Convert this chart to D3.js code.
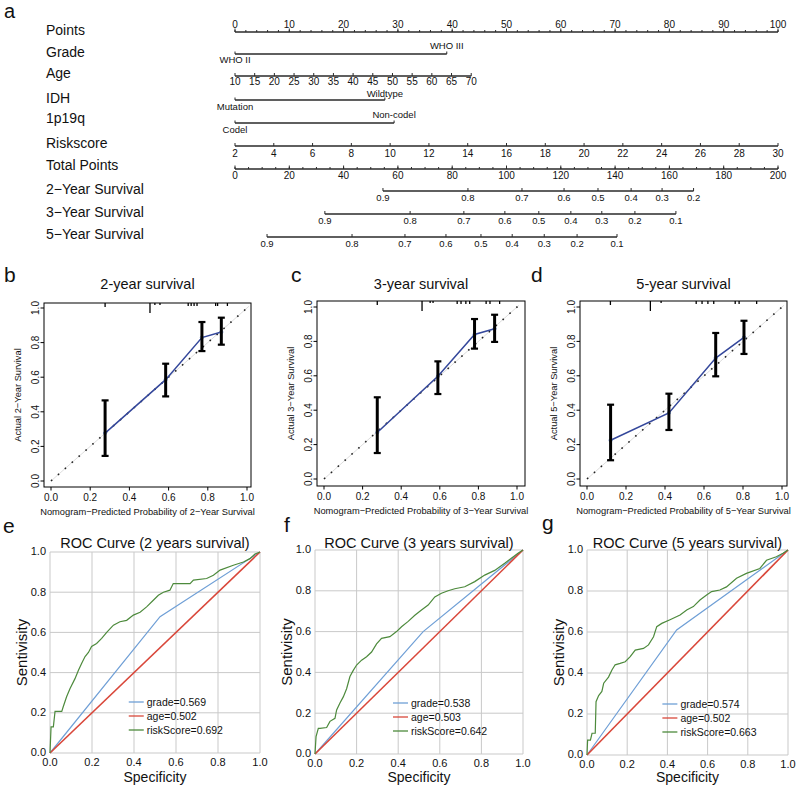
<!DOCTYPE html>
<html><head><meta charset="utf-8">
<script src="https://cdn.jsdelivr.net/npm/d3@7"></script>
<style>
body{margin:0;background:#fff}
svg{display:block}
text{font-family:"Liberation Sans",Arial,Helvetica,sans-serif;fill:#111}
</style>
</head><body>
<svg id="chart" width="800" height="785"></svg>
<script>
// ---------------- Nomogram data ----------------
const nomoRows = ["Points","Grade","Age","IDH","1p19q","Riskscore","Total Points","2−Year Survival","3−Year Survival","5−Year Survival"];
const pointsTicks = d3.range(0, 101, 10);
const pointsMinor = d3.range(0, 101, 2);
const gradeLevels = ["WHO II", "WHO III"];
const gradePoints = [0, 39];
const ageTicks = d3.range(10, 71, 5);
const ageRange = [10, 70];
const agePointsRange = [0, 43.5];
const idhLevels = ["Mutation", "Wildtype"];
const idhPoints = [0, 27.6];
const codelLevels = ["Codel", "Non-codel"];
const codelPoints = [0, 29.3];
const riskTicks = d3.range(2, 31, 2);
const riskRange = [2, 30];
const totalTicks = d3.range(0, 201, 20);
const totalMinor = d3.range(0, 201, 5);
const surv2Labels = ["0.9","0.8","0.7","0.6","0.5","0.4","0.3","0.2"];
const surv2Total = [54.5, 85.8, 105.7, 121.2, 133.7, 145.9, 157.3, 168.9];
const surv3Labels = ["0.9","0.8","0.7","0.6","0.5","0.4","0.3","0.2","0.1"];
const surv3Total = [33.1, 64.5, 84.3, 99.4, 111.9, 123.7, 135.1, 147.3, 162.4];
const surv5Labels = ["0.9","0.8","0.7","0.6","0.5","0.4","0.3","0.2","0.1"];
const surv5Total = [11.8, 43.1, 62.6, 77.7, 90.6, 102.1, 113.9, 126.0, 140.7];

// ---------------- Calibration data ----------------
const cal2Pred = [0.276, 0.585, 0.77, 0.869];
const cal2Obs  = [0.277, 0.586, 0.829, 0.861];
const cal2Lo   = [0.145, 0.489, 0.751, 0.788];
const cal2Hi   = [0.466, 0.678, 0.919, 0.944];
const cal2Rug  = [0.276, 0.505, 0.53, 0.556, 0.70, 0.715, 0.73, 0.745, 0.84, 0.85, 0.90];
const cal2RugN = [3, 9, 1, 1, 2, 2, 2, 2, 2, 2, 2];

const cal3Pred = [0.276, 0.59, 0.78, 0.884];
const cal3Obs  = [0.27, 0.597, 0.84, 0.874];
const cal3Lo   = [0.151, 0.494, 0.758, 0.797];
const cal3Hi   = [0.475, 0.684, 0.93, 0.955];
const cal3Rug  = [0.276, 0.508, 0.55, 0.565, 0.69, 0.71, 0.735, 0.755, 0.84, 0.86, 0.91];
const cal3RugN = [3, 9, 1, 1, 2, 2, 2, 2, 2, 2, 2];

const cal5Pred = [0.121, 0.42, 0.66, 0.805];
const cal5Obs  = [0.225, 0.384, 0.703, 0.824];
const cal5Lo   = [0.109, 0.285, 0.597, 0.727];
const cal5Hi   = [0.432, 0.496, 0.849, 0.92];
const cal5Rug  = [0.12, 0.325, 0.38, 0.56, 0.59, 0.62, 0.65, 0.76, 0.78, 0.87];
const cal5RugN = [3, 9, 1, 2, 2, 2, 2, 2, 2, 2];

// ---------------- ROC data ----------------
const rocTicks = [0, 0.2, 0.4, 0.6, 0.8, 1.0];
const rocSeries = ["grade", "age", "riskScore"];
const rocColors = ["#6f9fd6", "#d9473a", "#4d8a3c"];

const roc2Auc = ["0.569", "0.502", "0.692"];
const roc2GradeX = [0, 0.524, 1];
const roc2GradeY = [0, 0.678, 1];
const roc2AgeX = [0, 1];
const roc2AgeY = [0, 1];
const roc2RiskX = [0,0.005,0.016,0.024,0.056,0.063,0.079,0.095,0.119,0.135,0.151,0.167,0.183,0.198,0.222,0.246,0.27,0.302,0.333,0.365,0.397,0.429,0.46,0.492,0.516,0.54,0.571,0.587,0.667,0.683,0.746,0.778,0.81,0.873,0.921,0.952,0.976,1];
const roc2RiskY = [0,0.13,0.13,0.207,0.207,0.23,0.28,0.32,0.37,0.41,0.446,0.48,0.50,0.53,0.545,0.57,0.60,0.636,0.653,0.66,0.686,0.70,0.727,0.76,0.785,0.80,0.81,0.843,0.843,0.86,0.868,0.884,0.91,0.934,0.95,0.967,0.99,1];

const roc3Auc = ["0.538", "0.503", "0.642"];
const roc3GradeX = [0, 0.52, 1];
const roc3GradeY = [0, 0.60, 1];
const roc3AgeX = [0, 1];
const roc3AgeY = [0, 1];
const roc3RiskX = [0,0.005,0.016,0.024,0.056,0.072,0.096,0.104,0.12,0.136,0.152,0.168,0.184,0.2,0.224,0.248,0.272,0.296,0.32,0.36,0.392,0.416,0.448,0.48,0.512,0.544,0.576,0.608,0.64,0.672,0.72,0.768,0.816,0.864,0.912,0.944,0.976,1];
const roc3RiskY = [0,0.085,0.126,0.126,0.13,0.16,0.175,0.216,0.25,0.28,0.32,0.38,0.41,0.436,0.46,0.477,0.50,0.54,0.567,0.575,0.60,0.624,0.65,0.68,0.706,0.73,0.77,0.788,0.80,0.81,0.82,0.845,0.877,0.90,0.935,0.96,0.984,1];

const roc5Auc = ["0.574", "0.502", "0.663"];
const roc5GradeX = [0, 0.446, 1];
const roc5GradeY = [0, 0.61, 1];
const roc5AgeX = [0, 1];
const roc5AgeY = [0, 1];
const roc5RiskX = [0,0.003,0.017,0.025,0.041,0.045,0.058,0.074,0.083,0.107,0.124,0.14,0.165,0.19,0.215,0.24,0.281,0.306,0.331,0.347,0.372,0.413,0.463,0.496,0.529,0.562,0.595,0.62,0.661,0.694,0.744,0.793,0.86,0.893,0.942,0.975,1];
const roc5RiskY = [0,0.073,0.073,0.106,0.106,0.26,0.29,0.31,0.35,0.38,0.415,0.44,0.447,0.455,0.48,0.512,0.52,0.537,0.577,0.626,0.642,0.66,0.683,0.707,0.724,0.756,0.78,0.797,0.805,0.82,0.862,0.886,0.91,0.95,0.967,0.984,1];

// ======================================================
const svg = d3.select("#chart");
svg.append("rect").attr("width", 800).attr("height", 785).attr("fill", "#fff");

function letter(t, x, y, s) {
  svg.append("text").attr("x", x).attr("y", y).attr("font-size", s || 21).text(t);
}

// ---------------- Panel a: nomogram ----------------
letter("a", 4, 18, 20);
const px = d3.scaleLinear([0, 100], [235, 778]);
const tx = d3.scaleLinear([0, 200], [235, 778]);
const rowBase = [35, 57, 78, 103, 123, 148, 170, 194, 217, 239];
const nomo = svg.append("g");
nomo.selectAll("text.rowlab").data(nomoRows).join("text")
  .attr("class", "rowlab").attr("x", 46).attr("y", (d, i) => rowBase[i])
  .attr("font-size", 14).text(d => d);

const lineCol = "#2a2a2a";
function hline(y, x1, x2) {
  nomo.append("line").attr("x1", x1).attr("x2", x2).attr("y1", y).attr("y2", y)
    .attr("stroke", lineCol).attr("stroke-width", 1.4);
}
function ticks(y, xs, len) {
  nomo.selectAll(null).data(xs).join("line")
    .attr("x1", d => d).attr("x2", d => d).attr("y1", y).attr("y2", y - len)
    .attr("stroke", lineCol).attr("stroke-width", 1);
}
function labels(y, xs, texts, size) {
  nomo.selectAll(null).data(xs).join("text")
    .attr("x", d => d).attr("y", y).attr("text-anchor", "middle")
    .attr("font-size", size || 9.5).text((d, i) => texts[i]);
}

// Points
hline(32, px(0), px(100));
ticks(32, pointsMinor.map(px), 2);
ticks(32, pointsTicks.map(px), 3.5);
labels(28, pointsTicks.map(px), pointsTicks.map(String), 10);

// Grade
hline(54, px(gradePoints[0]), px(gradePoints[1]));
ticks(54, gradePoints.map(px), 2.5);
labels(63, [px(gradePoints[0])], [gradeLevels[0]]);
labels(49, [px(gradePoints[1])], [gradeLevels[1]]);

// Age
const ageScale = d3.scaleLinear(ageRange, agePointsRange.map(px));
hline(76, ageScale(ageRange[0]), ageScale(ageRange[1]));
ticks(76, ageTicks.map(ageScale), 3);
labels(85, ageTicks.map(ageScale), ageTicks.map(String), 10);

// IDH
hline(100, px(idhPoints[0]), px(idhPoints[1]));
ticks(100, idhPoints.map(px), 2.5);
labels(110, [px(idhPoints[0])], [idhLevels[0]]);
labels(96.5, [px(idhPoints[1])], [idhLevels[1]]);

// 1p19q
hline(123, px(codelPoints[0]), px(codelPoints[1]));
ticks(123, codelPoints.map(px), 2.5);
labels(133, [px(codelPoints[0])], [codelLevels[0]]);
labels(118, [px(codelPoints[1])], [codelLevels[1]]);

// Riskscore
const riskScale = d3.scaleLinear(riskRange, [px(0), px(100)]);
hline(146, riskScale(riskRange[0]), riskScale(riskRange[1]));
ticks(146, riskTicks.map(riskScale), 3);
labels(157, riskTicks.map(riskScale), riskTicks.map(String), 10);

// Total points
hline(169, tx(0), tx(200));
ticks(169, totalMinor.map(tx), 2);
ticks(169, totalTicks.map(tx), 3.5);
labels(179, totalTicks.map(tx), totalTicks.map(String), 10);

// Survival axes
[[191, 201, surv2Total, surv2Labels], [214, 224, surv3Total, surv3Labels], [237, 247, surv5Total, surv5Labels]]
  .forEach(([y, ly, tot, labs]) => {
    const xs = tot.map(tx);
    hline(y, d3.min(xs), d3.max(xs));
    ticks(y, xs, 3);
    labels(ly, xs, labs, 9.5);
  });

// ---------------- Panels b-d: calibration ----------------
const calPanels = [
  {L: "b", lx: 4, title: "2-year survival", ylab: "Actual 2−Year Survival", xlab: "Nomogram−Predicted Probability of 2−Year Survival",
   pred: cal2Pred, obs: cal2Obs, lo: cal2Lo, hi: cal2Hi, rug: cal2Rug, rugN: cal2RugN,
   box: [44, 251, 303, 487], x01: [51, 247], y01: [481, 308]},
  {L: "c", lx: 291, title: "3-year survival", ylab: "Actual 3−Year Survival", xlab: "Nomogram−Predicted Probability of 3−Year Survival",
   pred: cal3Pred, obs: cal3Obs, lo: cal3Lo, hi: cal3Hi, rug: cal3Rug, rugN: cal3RugN,
   box: [317, 525, 301, 486], x01: [324, 517], y01: [479, 307]},
  {L: "d", lx: 531, title: "5-year survival", ylab: "Actual 5−Year Survival", xlab: "Nomogram−Predicted Probability of 5−Year Survival",
   pred: cal5Pred, obs: cal5Obs, lo: cal5Lo, hi: cal5Hi, rug: cal5Rug, rugN: cal5RugN,
   box: [580, 787, 301, 486], x01: [587, 782], y01: [479, 307]}
];
const calTicks = [0, 0.2, 0.4, 0.6, 0.8, 1.0];
calPanels.forEach(p => {
  const g = svg.append("g");
  const [bl, br, bt, bb] = p.box;
  const x = d3.scaleLinear([0, 1], p.x01);
  const y = d3.scaleLinear([0, 1], p.y01);
  letter(p.L, p.lx, 282);
  g.append("text").attr("x", (bl + br) / 2).attr("y", 289).attr("text-anchor", "middle")
    .attr("font-size", 14.5).text(p.title);
  // ideal line
  g.append("line").attr("x1", x(0)).attr("y1", y(0)).attr("x2", x(1.01)).attr("y2", y(1.01))
    .attr("stroke", "#d4d4d4").attr("stroke-width", 0.8);
  g.append("line").attr("x1", x(0)).attr("y1", y(0)).attr("x2", x(1.01)).attr("y2", y(1.01))
    .attr("stroke", "#222").attr("stroke-width", 1.6).attr("stroke-dasharray", "1.6,7.6");
  // calibration line
  const pts = p.pred.map((d, i) => [x(d), y(p.obs[i])]);
  g.append("path").attr("d", d3.line()(pts)).attr("fill", "none")
    .attr("stroke", "#34479b").attr("stroke-width", 1.5);
  g.selectAll(null).data(pts).join("circle").attr("cx", d => d[0]).attr("cy", d => d[1])
    .attr("r", 1.6).attr("fill", "none").attr("stroke", "#5b7fc8").attr("stroke-width", 0.8);
  // error bars
  p.pred.forEach((d, i) => {
    const cx = x(d);
    g.append("line").attr("x1", cx).attr("x2", cx).attr("y1", y(p.lo[i])).attr("y2", y(p.hi[i]))
      .attr("stroke", "#000").attr("stroke-width", 3);
    [p.lo[i], p.hi[i]].forEach(v => {
      g.append("line").attr("x1", cx - 3.5).attr("x2", cx + 3.5).attr("y1", y(v)).attr("y2", y(v))
        .attr("stroke", "#000").attr("stroke-width", 2.2);
    });
  });
  // rug
  g.selectAll(null).data(p.rug).join("line")
    .attr("x1", d => x(d)).attr("x2", d => x(d)).attr("y1", bt)
    .attr("y2", (d, i) => bt + 1 + p.rugN[i] * 1.0)
    .attr("stroke", "#000").attr("stroke-width", 1.3);
  // box
  g.append("rect").attr("x", bl).attr("y", bt).attr("width", br - bl).attr("height", bb - bt)
    .attr("fill", "none").attr("stroke", "#000").attr("stroke-width", 1);
  // x ticks
  g.selectAll(null).data(calTicks).join("line")
    .attr("x1", d => x(d)).attr("x2", d => x(d)).attr("y1", bb).attr("y2", bb + 3.5)
    .attr("stroke", "#000");
  g.selectAll(null).data(calTicks).join("text")
    .attr("x", d => x(d)).attr("y", bb + 14).attr("text-anchor", "middle")
    .attr("font-size", 10).text(d3.format(".1f"));
  // y ticks
  g.selectAll(null).data(calTicks).join("line")
    .attr("x1", bl).attr("x2", bl - 3.5).attr("y1", d => y(d)).attr("y2", d => y(d))
    .attr("stroke", "#000");
  g.selectAll(null).data(calTicks).join("text")
    .attr("transform", d => `translate(${bl - 5},${y(d)}) rotate(-90)`)
    .attr("text-anchor", "middle").attr("font-size", 10).text(d3.format(".1f"));
  // axis titles
  g.append("text").attr("x", (bl + br) / 2).attr("y", bb + 28).attr("text-anchor", "middle")
    .attr("font-size", 9.3).text(p.xlab);
  g.append("text").attr("transform", `translate(${bl - 23},${(bt + bb) / 2}) rotate(-90)`)
    .attr("text-anchor", "middle").attr("font-size", 9.3).text(p.ylab);
});

// ---------------- Panels e-g: ROC ----------------
const rocPanels = [
  {L: "e", lx: 3, ly: 533, title: "ROC Curve (2 years survival)", auc: roc2Auc,
   xs: [roc2GradeX, roc2AgeX, roc2RiskX], ys: [roc2GradeY, roc2AgeY, roc2RiskY], area: [50, 260, 552, 753]},
  {L: "f", lx: 284, ly: 532, title: "ROC Curve (3 years survival)", auc: roc3Auc,
   xs: [roc3GradeX, roc3AgeX, roc3RiskX], ys: [roc3GradeY, roc3AgeY, roc3RiskY], area: [315, 523, 550, 754]},
  {L: "g", lx: 542, ly: 530, title: "ROC Curve (5 years survival)", auc: roc5Auc,
   xs: [roc5GradeX, roc5AgeX, roc5RiskX], ys: [roc5GradeY, roc5AgeY, roc5RiskY], area: [587, 788, 550, 755]}
];
rocPanels.forEach(p => {
  const g = svg.append("g");
  const [l, r, t, b] = p.area;
  const x = d3.scaleLinear([0, 1], [l, r]);
  const y = d3.scaleLinear([0, 1], [b, t]);
  letter(p.L, p.lx, p.ly);
  // grid
  g.selectAll(null).data(rocTicks).join("line")
    .attr("x1", d => x(d)).attr("x2", d => x(d)).attr("y1", t).attr("y2", b)
    .attr("stroke", "#c9c9c9").attr("stroke-width", 1);
  g.selectAll(null).data(rocTicks).join("line")
    .attr("x1", l).attr("x2", r).attr("y1", d => y(d)).attr("y2", d => y(d))
    .attr("stroke", "#c9c9c9").attr("stroke-width", 1);
  // curves
  const line = d3.line();
  [0, 1, 2].forEach(k => {
    const pts = p.xs[k].map((v, i) => [x(v), y(p.ys[k][i])]);
    g.append("path").attr("d", line(pts)).attr("fill", "none")
      .attr("stroke", rocColors[k]).attr("stroke-width", k === 1 ? 1.6 : 1.2);
  });
  // tick labels
  g.selectAll(null).data(rocTicks).join("text")
    .attr("x", l - 4).attr("y", d => y(d)).attr("dy", "0.3em").attr("text-anchor", "end")
    .attr("font-size", 11).text(d3.format(".1f"));
  g.selectAll(null).data(rocTicks).join("text")
    .attr("x", d => x(d)).attr("y", b + 12.5).attr("text-anchor", "middle")
    .attr("font-size", 11).text(d3.format(".1f"));
  // titles
  g.append("text").attr("x", (l + r) / 2).attr("y", 548).attr("text-anchor", "middle")
    .attr("font-size", 14.5).text(p.title);
  g.append("text").attr("x", (l + r) / 2).attr("y", 781.5).attr("text-anchor", "middle")
    .attr("font-size", 14).text("Specificity");
  g.append("text").attr("transform", `translate(${l - 23},${(t + b) / 2}) rotate(-90)`)
    .attr("text-anchor", "middle").attr("font-size", 15).text("Sentivisity");
  // legend
  const lx = x(0.375);
  [0, 1, 2].forEach(k => {
    const ly = b - 51 + k * 14;
    g.append("line").attr("x1", lx).attr("x2", lx + 15).attr("y1", ly).attr("y2", ly)
      .attr("stroke", rocColors[k]).attr("stroke-width", 1.3);
    g.append("text").attr("x", lx + 18).attr("y", ly).attr("dy", "0.35em")
      .attr("font-size", 10.5).text(`${rocSeries[k]}=${p.auc[k]}`);
  });
});
</script>
</body></html>
